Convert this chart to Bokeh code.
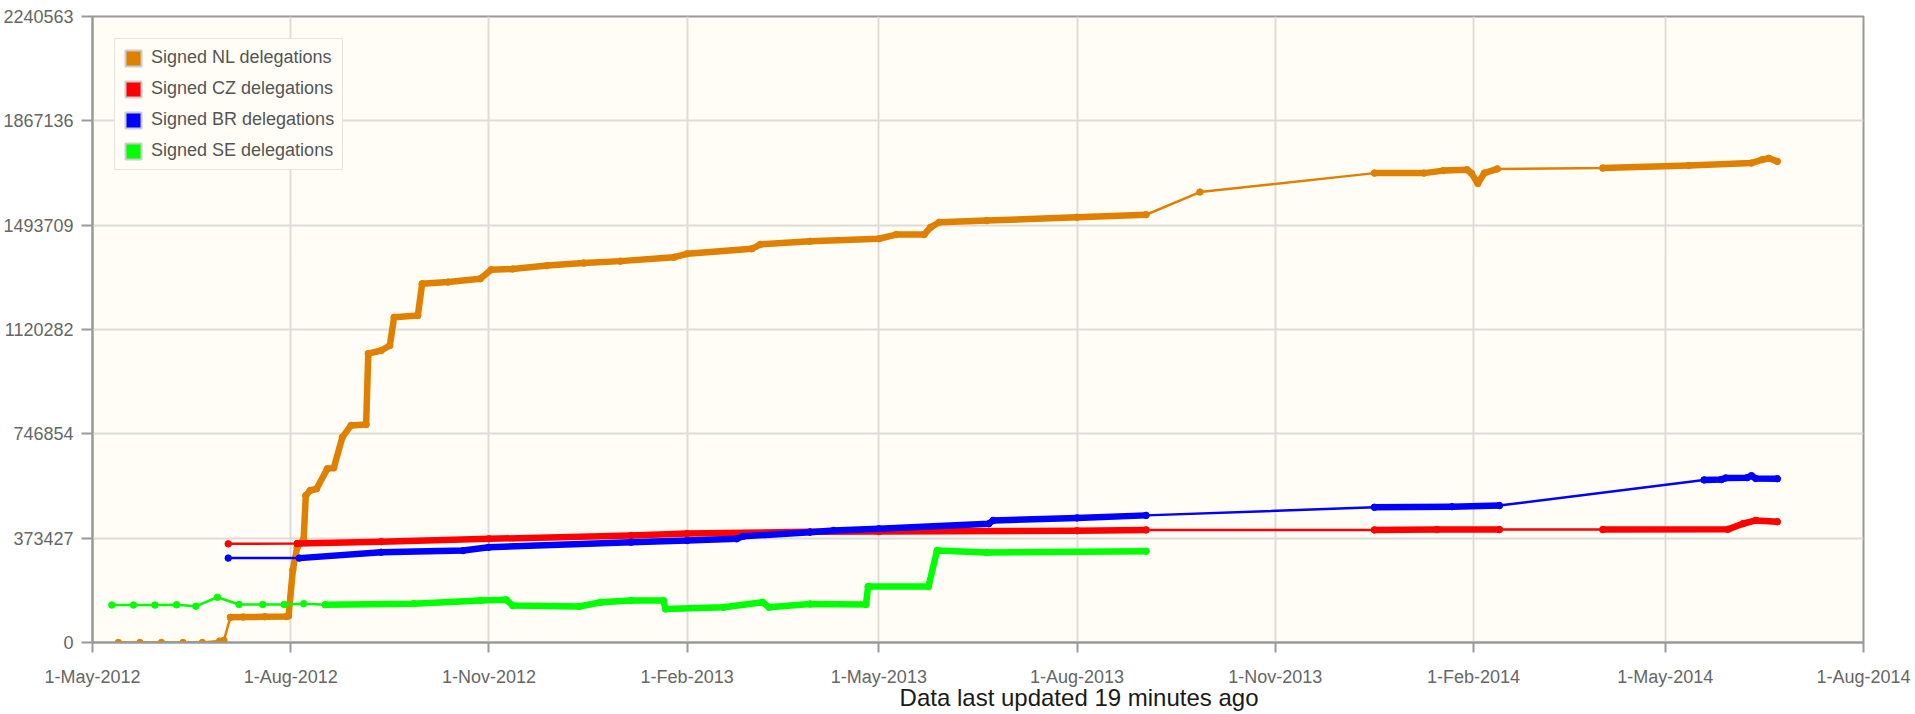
import pandas as pd
from bokeh.plotting import figure
from bokeh.models import (Range1d, FixedTicker, CustomJSTickFormatter, NumeralTickFormatter,
                          Legend, LegendItem, Title)
from bokeh.embed import file_html
from bokeh.resources import INLINE

# ---------------- data ----------------
x_tick_dates = ["2012-05-01", "2012-08-01", "2012-11-01", "2013-02-01", "2013-05-01",
                "2013-08-01", "2013-11-01", "2014-02-01", "2014-05-01", "2014-08-01"]
y_tick_values = [0, 373427, 746854, 1120282, 1493709, 1867136, 2240563]

series_names = ["Signed NL delegations", "Signed CZ delegations",
                "Signed BR delegations", "Signed SE delegations"]
series_colors = ["#e08000", "#ff0000", "#0000ff", "#00ff00"]

nl_dates = ["2012-05-13", "2012-05-23", "2012-06-02", "2012-06-12", "2012-06-21", "2012-06-29",
            "2012-07-01", "2012-07-04", "2012-07-10", "2012-07-20", "2012-07-30", "2012-07-31",
            "2012-08-02", "2012-08-04", "2012-08-07", "2012-08-08", "2012-08-10", "2012-08-13",
            "2012-08-18", "2012-08-21", "2012-08-25", "2012-08-29", "2012-09-05", "2012-09-06",
            "2012-09-12", "2012-09-16", "2012-09-18", "2012-09-29", "2012-10-01", "2012-10-13",
            "2012-10-28", "2012-11-02", "2012-11-12", "2012-11-28", "2012-12-15", "2013-01-01",
            "2013-01-26", "2013-02-01", "2013-03-03", "2013-03-07", "2013-03-30", "2013-05-01",
            "2013-05-09", "2013-05-22", "2013-05-25", "2013-05-29", "2013-06-20", "2013-08-01",
            "2013-09-02", "2013-09-27", "2013-12-17", "2014-01-09", "2014-01-18", "2014-01-29",
            "2014-01-31", "2014-02-03", "2014-02-06", "2014-02-12", "2014-04-02", "2014-05-12",
            "2014-06-10", "2014-06-15", "2014-06-18", "2014-06-22"]
nl_values = [0, 0, 0, 0, 0, 5000,
             8000, 90000, 91000, 92000, 93000, 95000,
             260000, 340000, 370000, 526000, 544000, 550000,
             622000, 625000, 735000, 777000, 780000, 1034000,
             1045000, 1063000, 1164000, 1170000, 1284000, 1290000,
             1302000, 1334000, 1337000, 1349000, 1358000, 1365000,
             1379000, 1391000, 1409000, 1425000, 1436000, 1445000,
             1460000, 1460000, 1486000, 1504000, 1510000, 1522000,
             1531000, 1612000, 1680000, 1680000, 1689000, 1692000,
             1680000, 1643000, 1680000, 1695000, 1698000, 1707000,
             1716000, 1728000, 1733000, 1722000]
nl_dense = [("2012-07-04", "2013-09-02"), ("2013-12-17", "2014-02-12"), ("2014-04-02", "2014-06-22")]

cz_dates = ["2012-07-03", "2012-08-04", "2012-09-12", "2012-11-01", "2013-01-06", "2013-02-01",
            "2013-03-30", "2013-05-01", "2013-08-01", "2013-09-02", "2013-12-17", "2014-01-15",
            "2014-02-13", "2014-04-02", "2014-05-30", "2014-06-06", "2014-06-12", "2014-06-22"]
cz_values = [353000, 354000, 361000, 371000, 383000, 390000,
             396000, 397000, 400000, 403000, 403000, 404000,
             404000, 404000, 405000, 425000, 437000, 432000]
cz_dense = [("2012-08-04", "2013-09-02"), ("2013-12-17", "2014-02-13"), ("2014-04-02", "2014-06-22")]

br_dates = ["2012-07-03", "2012-08-05", "2012-09-12", "2012-10-20", "2012-11-01", "2013-01-06",
            "2013-02-01", "2013-02-24", "2013-02-27", "2013-03-30", "2013-04-10", "2013-05-01",
            "2013-06-21", "2013-06-23", "2013-08-01", "2013-09-02", "2013-12-17", "2014-01-22",
            "2014-02-13", "2014-05-19", "2014-05-27", "2014-05-29", "2014-06-08", "2014-06-10",
            "2014-06-12", "2014-06-22"]
br_values = [302000, 302000, 323000, 329000, 341000, 359000,
             365000, 371000, 380000, 395000, 401000, 407000,
             425000, 437000, 446000, 455000, 484000, 486000,
             490000, 582000, 583000, 589000, 590000, 597000,
             587000, 586000]
br_dense = [("2012-08-05", "2013-09-02"), ("2013-12-17", "2014-02-13"), ("2014-05-19", "2014-06-22")]

se_dates = ["2012-05-10", "2012-05-20", "2012-05-30", "2012-06-09", "2012-06-18", "2012-06-28",
            "2012-07-08", "2012-07-19", "2012-07-29", "2012-08-07", "2012-08-17", "2012-09-27",
            "2012-10-28", "2012-11-09", "2012-11-12", "2012-12-13", "2012-12-23", "2013-01-06",
            "2013-01-21", "2013-01-22", "2013-02-18", "2013-03-08", "2013-03-11", "2013-03-30",
            "2013-04-25", "2013-04-26", "2013-05-24", "2013-05-28", "2013-06-20", "2013-09-02"]
se_values = [134000, 134000, 134000, 135000, 130000, 162000,
             136000, 136000, 136000, 139000, 135000, 139000,
             150000, 153000, 132000, 129000, 144000, 150000,
             150000, 120000, 126000, 144000, 126000, 138000,
             136000, 200000, 200000, 329000, 322000, 327000]
se_dense = [("2012-08-17", "2013-09-02")]

all_dates = [nl_dates, cz_dates, br_dates, se_dates]
all_values = [nl_values, cz_values, br_values, se_values]
all_dense = [nl_dense, cz_dense, br_dense, se_dense]

# ---------------- styling ----------------
FONT = "Liberation Sans"
PLOT_BG = "#fffdf6"

p = figure(width=1915, height=714, x_axis_type="datetime",
           output_backend="svg", toolbar_location=None,
           x_range=Range1d(pd.Timestamp(x_tick_dates[0]), pd.Timestamp(x_tick_dates[-1])),
           y_range=Range1d(y_tick_values[0], y_tick_values[-1]),
           min_border_left=91, min_border_right=52, min_border_top=16, min_border_bottom=72)

p.background_fill_color = PLOT_BG
p.border_fill_color = "white"
p.outline_line_color = "#999999"
p.outline_line_width = 2

tick_ms = [pd.Timestamp(d).value // 10**6 for d in x_tick_dates]
p.xaxis.ticker = FixedTicker(ticks=tick_ms)
p.xaxis.formatter = CustomJSTickFormatter(code="""
const m = ["Jan","Feb","Mar","Apr","May","Jun","Jul","Aug","Sep","Oct","Nov","Dec"];
const d = new Date(tick);
return d.getUTCDate() + "-" + m[d.getUTCMonth()] + "-" + d.getUTCFullYear();
""")
p.yaxis.ticker = FixedTicker(ticks=y_tick_values)
p.yaxis.formatter = NumeralTickFormatter(format="0")

for ax in (p.xaxis[0], p.yaxis[0]):
    ax.axis_line_color = "#999999"
    ax.axis_line_width = 2
    ax.major_tick_line_color = "#999999"
    ax.major_tick_line_width = 2
    ax.major_tick_in = 0
    ax.minor_tick_line_color = None
    ax.major_label_text_font = FONT
    ax.major_label_text_color = "#666666"
    ax.major_label_text_font_size = "18px"
p.xaxis.major_tick_out = 10
p.xaxis.major_label_standoff = 14
p.yaxis.major_tick_out = 11
p.yaxis.major_label_standoff = 8

p.grid.grid_line_color = "#dedcd8"
p.grid.grid_line_width = 2

legend_items = []
for name, color, dts, vals, dense in zip(series_names, series_colors, all_dates, all_values, all_dense):
    d = pd.to_datetime(pd.Series(dts))
    v = pd.Series(vals, dtype=float)
    p.line(d, v, line_color=color, line_width=2.5)
    for s, e in dense:
        mask = (d >= pd.Timestamp(s)) & (d <= pd.Timestamp(e))
        p.line(d[mask], v[mask], line_color=color, line_width=6.5,
               line_join="round", line_cap="round")
    p.scatter(d, v, size=6.5, fill_color=color, line_color=color)
    # legend swatch proxy (no visible mark in the plot)
    swatch = p.quad(left=[float("nan")], right=[float("nan")], top=[float("nan")],
                    bottom=[float("nan")], fill_color=color,
                    line_color="#cccccc", line_width=2)
    legend_items.append(LegendItem(label=name, renderers=[swatch]))

legend = Legend(items=legend_items, location="top_left", margin=22,
                padding=8, spacing=10, glyph_width=20, glyph_height=20,
                label_height=20, label_standoff=8,
                label_text_font=FONT, label_text_font_size="18px",
                label_text_color="#555555",
                border_line_color="#cccccc", border_line_width=1,
                background_fill_color=PLOT_BG, background_fill_alpha=1.0)
p.add_layout(legend, "center")

p.add_layout(Title(text="Data last updated 19 minutes ago", align="right", offset=605,
                   text_font=FONT, text_font_size="24px", text_font_style="normal",
                   text_color="#1a1a1a", standoff=-15), "below")

open("out.html", "w").write(file_html(p, INLINE))
